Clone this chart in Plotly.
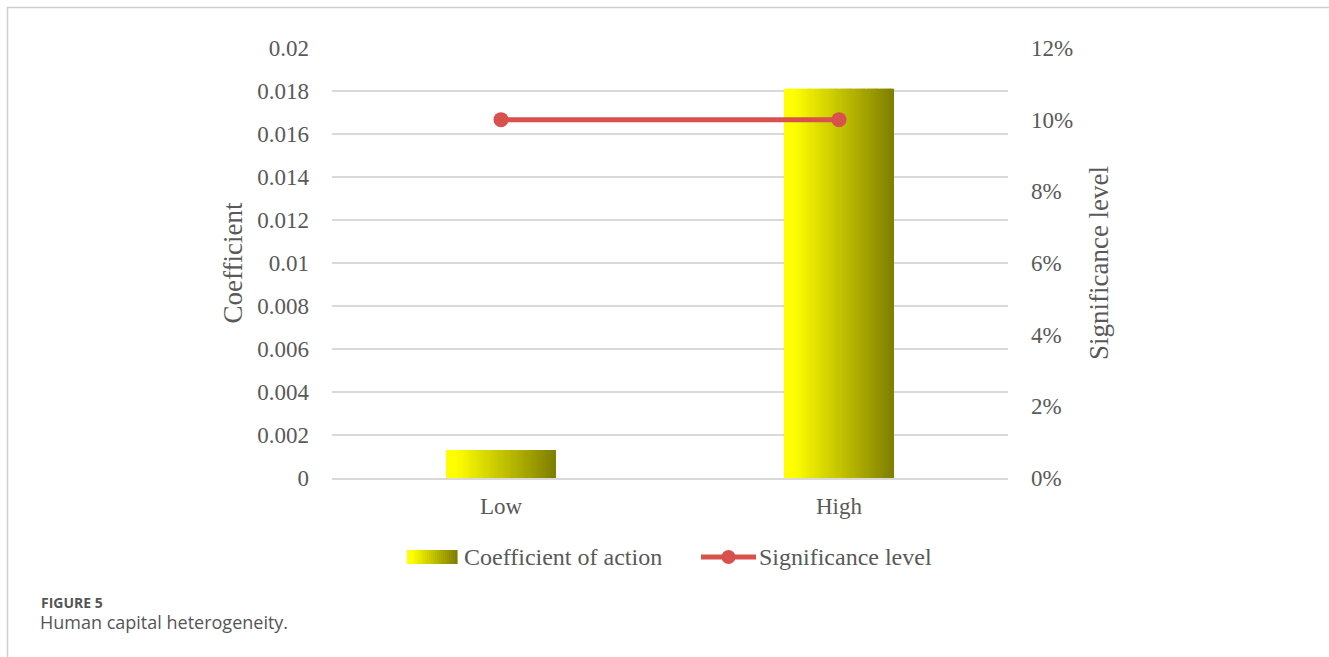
import plotly.graph_objects as go

# Data
categories = ["Low", "High"]
coefficients = [0.0013, 0.0181]
significance = [0.10, 0.10]

y_ticks = [0, 0.002, 0.004, 0.006, 0.008, 0.01, 0.012, 0.014, 0.016, 0.018, 0.02]
y_tick_labels = ["0", "0.002", "0.004", "0.006", "0.008", "0.01", "0.012",
                 "0.014", "0.016", "0.018", "0.02"]
y2_ticks = [0, 0.02, 0.04, 0.06, 0.08, 0.10, 0.12]
y2_tick_labels = ["0%", "2%", "4%", "6%", "8%", "10%", "12%"]

W, H = 1329, 657
L, R, T, B = 332, 321, 48, 179
PW, PH = W - L - R, H - T - B

TEXT = "#595959"
SERIF = "Liberation Serif"
GRID = "#d9d9d9"
RED = "#D9514D"


def px(x):
    return (x - L) / PW


def py(y):
    return (H - B - y) / PH


C_LEFT, C_RIGHT = (255, 255, 0), (128, 128, 0)


def grad(t):
    tt = max(0.0, (t - 0.08) / 0.92)
    return "rgb({},{},{})".format(*[round(a + (b - a) * tt) for a, b in zip(C_LEFT, C_RIGHT)])


fig = go.Figure()

# Bars with a horizontal yellow-to-olive gradient, built from thin slices
BAR_W = 0.32
N = 100
for i in range(N):
    fig.add_trace(go.Bar(
        x=categories, y=coefficients,
        width=BAR_W / N * 1.6,
        offset=-BAR_W / 2 + i * BAR_W / N,
        marker=dict(color=grad(i / (N - 1)), line=dict(width=0)),
        name="Coefficient of action",
        showlegend=False,
        hoverinfo="skip",
    ))

fig.add_trace(go.Scatter(
    x=categories, y=significance, yaxis="y2",
    mode="lines+markers",
    line=dict(color=RED, width=5),
    marker=dict(color=RED, size=15),
    name="Significance level",
    showlegend=False,
))

fig.update_layout(
    width=W, height=H,
    margin=dict(l=L, r=R, t=T, b=B),
    paper_bgcolor="white", plot_bgcolor="white",
    barmode="overlay",
    showlegend=False,
    font=dict(family=SERIF, color=TEXT, size=23),
    xaxis=dict(
        type="category", showgrid=False, zeroline=False,
        ticks="", tickfont=dict(size=23, color=TEXT), ticklabelstandoff=6,
        showline=True, linecolor=GRID, linewidth=2,
    ),
    yaxis=dict(
        range=[0, 0.02], tickvals=y_ticks, ticktext=y_tick_labels,
        showgrid=True, gridcolor=GRID, gridwidth=1.5, zeroline=False,
        tickfont=dict(size=23, color=TEXT), ticklabelstandoff=22,
        title=dict(text="Coefficient", font=dict(size=27, color=TEXT), standoff=6),
    ),
    yaxis2=dict(
        range=[0, 0.12], tickvals=y2_ticks, ticktext=y2_tick_labels,
        overlaying="y", side="right", showgrid=False, zeroline=False,
        tickfont=dict(size=23, color=TEXT), ticklabelstandoff=22,
        title=dict(text="Significance level", font=dict(size=27, color=TEXT), standoff=16),
    ),
)

# Legend: gradient swatch for the bars, line-with-marker for significance
LEG_Y = 557
SW_X0, SW_X1 = 407, 457
n_sw = 25
for i in range(n_sw):
    x0 = SW_X0 + (SW_X1 - SW_X0) * i / n_sw
    x1 = SW_X0 + (SW_X1 - SW_X0) * (i + 1) / n_sw + 0.6
    fig.add_shape(type="rect", xref="paper", yref="paper",
                  x0=px(x0), x1=px(x1), y0=py(LEG_Y - 7), y1=py(LEG_Y + 7),
                  line=dict(width=0), fillcolor=grad(i / (n_sw - 1)), layer="above")
fig.add_annotation(text="Coefficient of action", xref="paper", yref="paper",
                   x=px(462), y=py(LEG_Y), xanchor="left", yanchor="middle",
                   showarrow=False, font=dict(family=SERIF, size=24, color=TEXT))
fig.add_shape(type="line", xref="paper", yref="paper",
              x0=px(701), x1=px(756), y0=py(LEG_Y), y1=py(LEG_Y),
              line=dict(color=RED, width=5))
fig.add_shape(type="circle", xref="paper", yref="paper",
              x0=px(721.5), x1=px(735.5), y0=py(LEG_Y - 7), y1=py(LEG_Y + 7),
              line=dict(width=0), fillcolor=RED)
fig.add_annotation(text="Significance level", xref="paper", yref="paper",
                   x=px(757), y=py(LEG_Y), xanchor="left", yanchor="middle",
                   showarrow=False, font=dict(family=SERIF, size=24, color=TEXT))

# Frame lines along the top and left edges
fig.add_shape(type="line", xref="paper", yref="paper",
              x0=px(7), x1=px(W), y0=py(7.5), y1=py(7.5),
              line=dict(color="#d0d0d0", width=1.5))
fig.add_shape(type="line", xref="paper", yref="paper",
              x0=px(7.5), x1=px(7.5), y0=py(7), y1=py(H),
              line=dict(color="#d0d0d0", width=1.5))

# Caption
fig.add_annotation(text="<b>FIGURE 5</b>", xref="paper", yref="paper",
                   x=px(39), y=py(602), xanchor="left", yanchor="middle",
                   showarrow=False, font=dict(family="Open Sans", size=14, color="#555555"))
fig.add_annotation(text="Human capital heterogeneity.", xref="paper", yref="paper",
                   x=px(38), y=py(622), xanchor="left", yanchor="middle",
                   showarrow=False, font=dict(family="Open Sans", size=18, color="#555555"))

fig.write_html("out.html")
